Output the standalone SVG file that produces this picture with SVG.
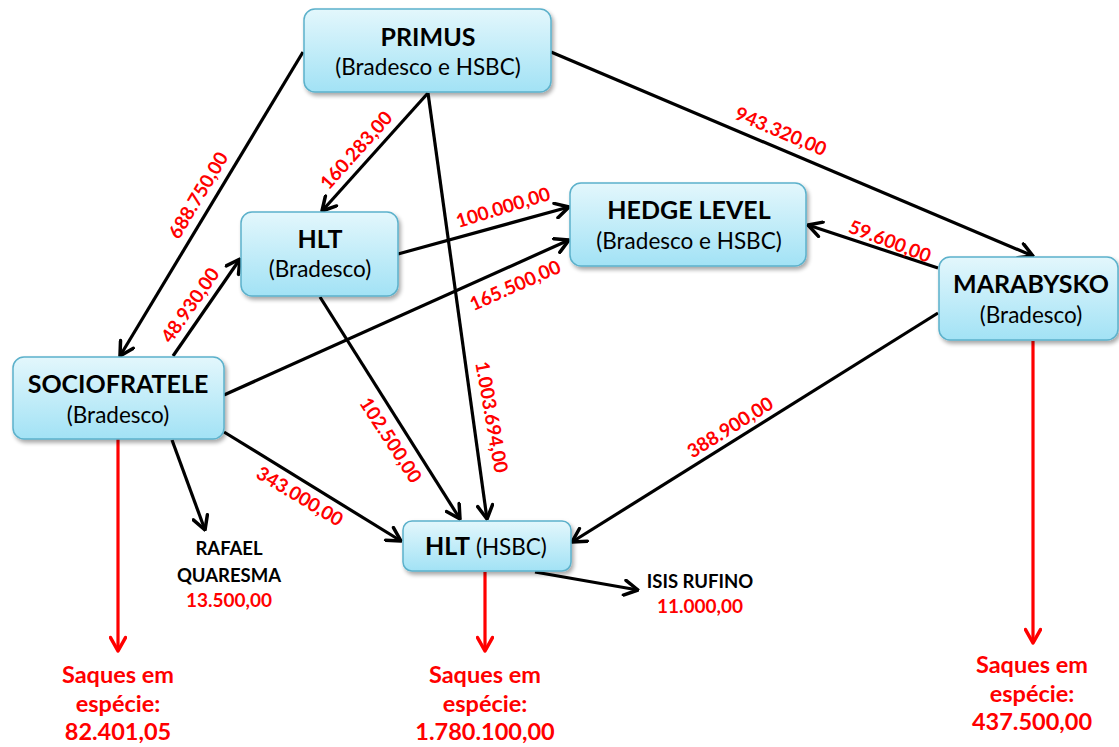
<svg xmlns="http://www.w3.org/2000/svg" width="1119" height="747" viewBox="0 0 1119 747">
<defs>
<linearGradient id="nodeFill" x1="0" y1="0" x2="0" y2="1">
<stop offset="0" stop-color="#e3f7fc"/>
<stop offset="1" stop-color="#a2e2f5"/>
</linearGradient>
<filter id="shadow" x="-10%" y="-10%" width="125%" height="135%">
<feGaussianBlur in="SourceAlpha" stdDeviation="2"/>
<feOffset dx="1.5" dy="2.5" result="b"/>
<feComponentTransfer><feFuncA type="linear" slope="0.35"/></feComponentTransfer>
<feMerge><feMergeNode/><feMergeNode in="SourceGraphic"/></feMerge>
</filter>
<marker id="ab" viewBox="0 0 18 18" refX="16.5" refY="9" markerWidth="18" markerHeight="18" markerUnits="userSpaceOnUse" orient="auto">
<path d="M3,1.5 L16.5,9 L3,16.5" fill="none" stroke="#000" stroke-width="3.5" stroke-linecap="round" stroke-linejoin="round"/>
</marker>
<marker id="ar" viewBox="0 0 18 18" refX="16.5" refY="9" markerWidth="18" markerHeight="18" markerUnits="userSpaceOnUse" orient="auto">
<path d="M3,1.5 L16.5,9 L3,16.5" fill="none" stroke="#ff0000" stroke-width="3.5" stroke-linecap="round" stroke-linejoin="round"/>
</marker>
</defs>
<style>
.box{fill:url(#nodeFill);stroke:#5cb1cb;stroke-width:1.5;filter:url(#shadow)}
.t{font-family:Lato,"Liberation Sans",sans-serif;font-weight:bold;font-size:25px;fill:#000;text-anchor:middle}
.s{font-family:Lato,"Liberation Sans",sans-serif;font-size:22.5px;fill:#000;text-anchor:middle}
.e{stroke:#000;stroke-width:3.2;fill:none;marker-end:url(#ab)}
.r{stroke:#ff0000;stroke-width:3.2;fill:none;marker-end:url(#ar)}
.lab{font-family:Lato,"Liberation Sans",sans-serif;font-weight:bold;font-size:19px;fill:#ff0000;text-anchor:middle}
.nm{font-family:Lato,"Liberation Sans",sans-serif;font-weight:bold;font-size:18.5px;fill:#000;text-anchor:middle}
.rv{font-family:Lato,"Liberation Sans",sans-serif;font-weight:bold;font-size:19px;fill:#ff0000;text-anchor:middle}
.big{font-family:Lato,"Liberation Sans",sans-serif;font-weight:bold;font-size:23.5px;fill:#ff0000;text-anchor:middle}
</style>
<rect width="1119" height="747" fill="#fff"/>

<g id="connectors">
<path class="e" d="M303,52 L120,356"/>
<path class="e" d="M428,93 L322,211"/>
<path class="e" d="M428,93 L487,519"/>
<path class="e" d="M551,52 L1033,256"/>
<path class="e" d="M398,254 L569,207"/>
<path class="e" d="M224,395 L569,240"/>
<path class="e" d="M173,356 L240,259"/>
<path class="e" d="M320,297 L460,519"/>
<path class="e" d="M224,432 L401,541"/>
<path class="e" d="M172,440 L205,530"/>
<path class="e" d="M938,313 L572,542"/>
<path class="e" d="M938,268 L808,225"/>
<path class="e" d="M535,572 L638,590"/>
<path class="r" d="M118,439 L118,651"/>
<path class="r" d="M485,572 L485,651"/>
<path class="r" d="M1033,341 L1033,643"/>
<text class="lab" transform="translate(198,195) rotate(-59)" y="7">688.750,00</text>
<text class="lab" transform="translate(356,150) rotate(-48)" y="7">160.283,00</text>
<text class="lab" transform="translate(492,417) rotate(80)" y="7">1.003.694,00</text>
<text class="lab" transform="translate(781,131) rotate(23)" y="7">943.320,00</text>
<text class="lab" transform="translate(503,207) rotate(-17)" y="7">100.000,00</text>
<text class="lab" transform="translate(515,285) rotate(-24)" y="7">165.500,00</text>
<text class="lab" transform="translate(190,305) rotate(-55)" y="7">48.930,00</text>
<text class="lab" transform="translate(391,440) rotate(57)" y="7">102.500,00</text>
<text class="lab" transform="translate(300,496) rotate(31)" y="7">343.000,00</text>
<text class="lab" transform="translate(730,427) rotate(-32)" y="7">388.900,00</text>
<text class="lab" transform="translate(890,241) rotate(21)" y="7">59.600,00</text>
</g>

<g id="primus">
<rect class="box" x="304" y="9" width="247" height="83" rx="11"/>
<text class="t" x="428" y="46">PRIMUS</text>
<text class="s" x="428" y="75">(Bradesco e HSBC)</text>
</g>

<g id="hlt-bradesco">
<rect class="box" x="241" y="212" width="157" height="84" rx="11"/>
<text class="t" x="320" y="248">HLT</text>
<text class="s" x="320" y="277">(Bradesco)</text>
</g>

<g id="hedge-level">
<rect class="box" x="570" y="183" width="236" height="83" rx="11"/>
<text class="t" x="689" y="219">HEDGE LEVEL</text>
<text class="s" x="689" y="249">(Bradesco e HSBC)</text>
</g>

<g id="marabysko">
<rect class="box" x="939" y="257" width="179" height="83" rx="11"/>
<text class="t" x="1031" y="293">MARABYSKO</text>
<text class="s" x="1031" y="323">(Bradesco)</text>
</g>

<g id="sociofratele">
<rect class="box" x="13" y="357" width="211" height="82" rx="11"/>
<text class="t" x="118" y="393">SOCIOFRATELE</text>
<text class="s" x="118" y="423">(Bradesco)</text>
</g>

<g id="hlt-hsbc">
<rect class="box" x="403" y="521" width="168" height="50" rx="9"/>
<text class="s" x="486" y="555"><tspan font-weight="bold" font-size="25">HLT</tspan> (HSBC)</text>
</g>

<g id="rafael-quaresma">
<text class="nm" x="229" y="555">RAFAEL</text>
<text class="nm" x="229" y="582">QUARESMA</text>
<text class="rv" x="229" y="607">13.500,00</text>
</g>

<g id="isis-rufino">
<text class="nm" x="700" y="588">ISIS RUFINO</text>
<text class="rv" x="700" y="613">11.000,00</text>
</g>

<g id="saques-sociofratele">
<text class="big" x="118" y="683">Saques em</text>
<text class="big" x="118" y="712">espécie:</text>
<text class="big" x="118" y="740">82.401,05</text>
</g>

<g id="saques-hlt">
<text class="big" x="485" y="683">Saques em</text>
<text class="big" x="485" y="712">espécie:</text>
<text class="big" x="485" y="740">1.780.100,00</text>
</g>

<g id="saques-marabysko">
<text class="big" x="1032" y="673">Saques em</text>
<text class="big" x="1032" y="702">espécie:</text>
<text class="big" x="1032" y="730">437.500,00</text>
</g>
</svg>
